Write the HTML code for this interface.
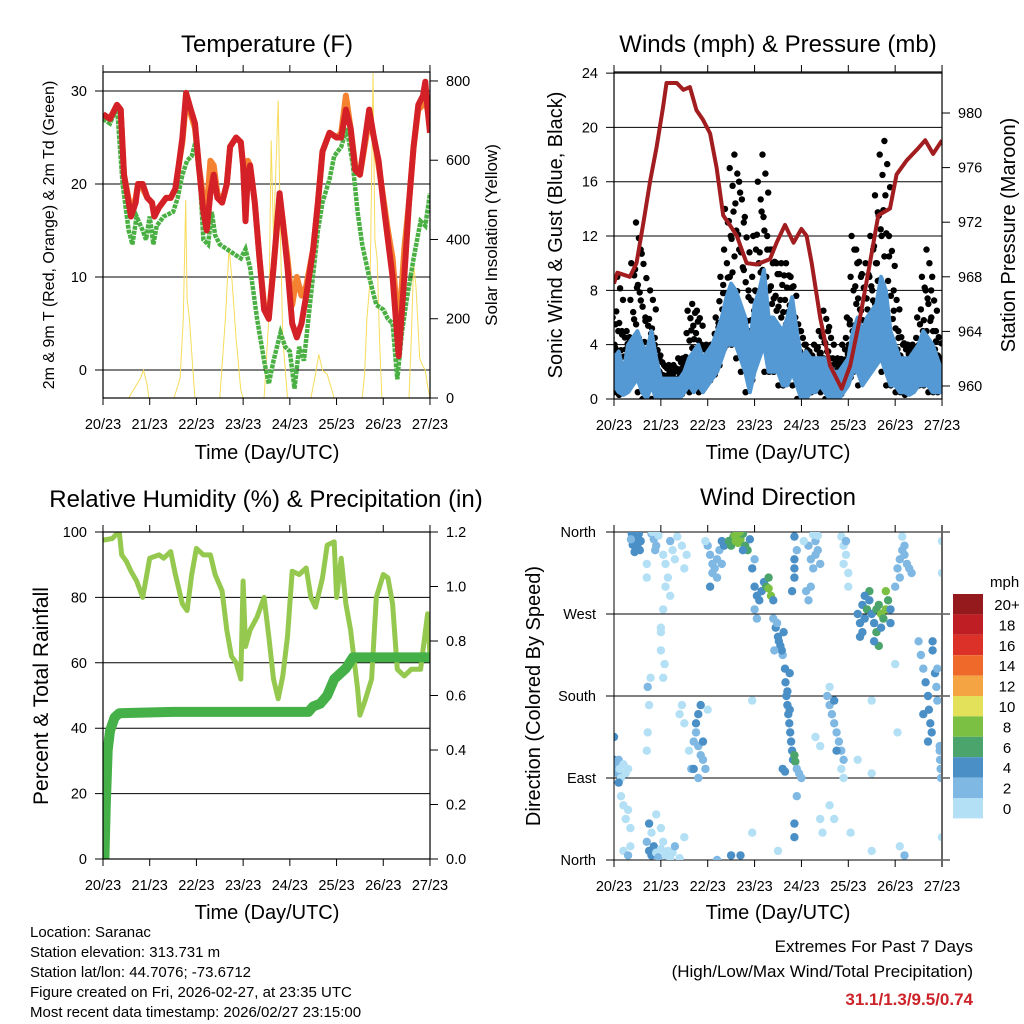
<!DOCTYPE html>
<html><head><meta charset="utf-8"><style>
html,body{margin:0;padding:0;background:#fff}
svg{display:block;font-family:"Liberation Sans",sans-serif}
</style></head><body>
<svg id="chart" width="1024" height="1024" viewBox="0 0 1024 1024" xmlns="http://www.w3.org/2000/svg">
<defs>
<clipPath id="c1"><rect x="103" y="72" width="327" height="326"/></clipPath>
<clipPath id="c2"><rect x="614" y="72" width="328" height="327"/></clipPath>
<clipPath id="c3"><rect x="103" y="532" width="327" height="327"/></clipPath>
<clipPath id="c4"><rect x="614" y="532" width="328" height="328"/></clipPath>
</defs>
<g id="g" font-size="14" fill="#000"></g>
<text x="267" y="52" font-size="24" text-anchor="middle">Temperature (F)</text>
<text x="778" y="52" font-size="24" text-anchor="middle">Winds (mph) &amp; Pressure (mb)</text>
<text x="266" y="507" font-size="24" text-anchor="middle">Relative Humidity (%) &amp; Precipitation (in)</text>
<text x="778" y="505" font-size="24" text-anchor="middle">Wind Direction</text>
<text transform="translate(54,235) rotate(-90)" font-size="16" text-anchor="middle">2m &amp; 9m T (Red, Orange) &amp; 2m Td (Green)</text>
<text transform="translate(497,235) rotate(-90)" font-size="17" text-anchor="middle">Solar Insolation (Yellow)</text>
<text transform="translate(562,235) rotate(-90)" font-size="20" text-anchor="middle">Sonic Wind &amp; Gust (Blue, Black)</text>
<text transform="translate(1015,235) rotate(-90)" font-size="20" text-anchor="middle">Station Pressure (Maroon)</text>
<text transform="translate(48,696) rotate(-90)" font-size="21" text-anchor="middle">Percent &amp; Total Rainfall</text>
<text transform="translate(540,696) rotate(-90)" font-size="20" text-anchor="middle">Direction (Colored By Speed)</text>
<text x="267" y="459" font-size="20" text-anchor="middle">Time (Day/UTC)</text>
<text x="778" y="459" font-size="20" text-anchor="middle">Time (Day/UTC)</text>
<text x="267" y="919" font-size="20" text-anchor="middle">Time (Day/UTC)</text>
<text x="778" y="919" font-size="20" text-anchor="middle">Time (Day/UTC)</text>
<g font-size="15">
<text x="30" y="937">Location: Saranac</text>
<text x="30" y="957">Station elevation: 313.731 m</text>
<text x="30" y="977">Station lat/lon: 44.7076; -73.6712</text>
<text x="30" y="997">Figure created on Fri, 2026-02-27, at 23:35 UTC</text>
<text x="30" y="1017">Most recent data timestamp: 2026/02/27 23:15:00</text>
</g>
<text x="973" y="952" font-size="17" text-anchor="end">Extremes For Past 7 Days</text>
<text x="973" y="977" font-size="17" text-anchor="end">(High/Low/Max Wind/Total Precipitation)</text>
<text x="973" y="1005" font-size="17" font-weight="bold" fill="#cc2229" text-anchor="end">31.1/1.3/9.5/0.74</text>
</svg>
<script>
const dayLabels=["20/23","21/23","22/23","23/23","24/23","25/23","26/23","27/23"];
// temperature
const tRedT=[0,.15,.3,.38,.45,.6,.7,.75,.85,.95,1.05,1.1,1.2,1.35,1.45,1.55,1.62,1.7,1.78,1.88,1.97,2.05,2.15,2.22,2.3,2.37,2.45,2.55,2.65,2.72,2.85,2.95,3.0,3.05,3.1,3.15,3.25,3.35,3.45,3.55,3.65,3.78,3.85,3.95,4.05,4.15,4.25,4.35,4.5,4.6,4.7,4.85,5.0,5.1,5.2,5.3,5.4,5.5,5.6,5.7,5.8,5.9,6.0,6.1,6.2,6.33,6.45,6.55,6.65,6.75,6.85,6.9,6.95,7.0];
const tRed=[27.5,27,28.5,28,21,16.5,18,20,20,18.5,18,16.5,17.5,18.5,18.5,19.5,22,25,29.8,28,26.5,22,17,15,19,21,18.5,18,20,24,25,24.5,22,16,21,22,18,12,6.5,5.5,11,19,16,11,5,3.5,5,8,13,18,23.5,25.5,25,25,28,26,21.5,21,24.5,28,25,22.5,18,14,10,1.5,10,18,24,28.5,29.5,31,28,25.5];
const tOrange=[27.5,27,28.5,28,21,17,18.5,20,19.5,18.5,18,16.5,17.5,18.5,18.5,19.5,22,24.5,29,27.5,26,22,18.5,17,22.5,22,19,18,20,24,25,24.5,22,17,22.5,22,18,12,7,6,11,18.5,16,12,7,10,8,9,13,18,23.5,25.5,25,25.5,29.5,26,22,21,24,27,25,22,18.5,15,12,4,13,18,24,28,28.5,29,28,27];
const tDewT=[0,.15,.3,.42,.55,.63,.72,.85,.92,1.0,1.08,1.15,1.3,1.5,1.6,1.7,1.8,1.9,1.98,2.08,2.15,2.25,2.33,2.4,2.5,2.65,2.8,2.95,3.05,3.15,3.3,3.45,3.55,3.65,3.8,3.9,4.0,4.1,4.2,4.3,4.45,4.6,4.7,4.85,4.95,5.1,5.22,5.35,5.45,5.55,5.7,5.85,6.0,6.1,6.2,6.3,6.4,6.5,6.65,6.8,6.9,7.0];
const tDew=[27,26.5,28.3,20,15,13.5,16.5,15,14,16.5,13.5,15.5,16.5,17,18.5,21,22.5,23,24.5,20,14,13.5,17,14.5,13.5,13,12.5,12,13,11,5.5,1,-1.5,1,4,2.5,2,-2,2.5,1,8,15,18,20.5,23,24,26,22,17,13.5,10,7,6.5,5.5,5,-1,4,7.5,12,16,15.5,19];
const solT=[0.55,0.7,0.8,0.87,0.95,0.98,1.52,1.65,1.72,1.77,1.8,1.85,1.93,1.97,2.5,2.62,2.7,2.76,2.85,2.95,3.0,3.45,3.55,3.6,3.65,3.75,3.8,3.85,3.95,4.45,4.55,4.62,4.7,4.8,4.9,4.95,5.55,5.6,5.65,5.72,5.78,5.82,5.87,5.92,5.97,6.55,6.6,6.65,6.7,6.78,6.85,6.9,6.95,7.0];
const solV=[0,30,50,70,30,0,0,50,200,500,250,200,60,0,0,200,380,300,150,20,0,0,200,650,400,750,400,150,0,0,60,110,70,60,20,0,0,60,200,300,820,400,350,150,0,0,150,340,280,100,80,70,30,0];
// winds
const wT=[0,.1,.2,.3,.4,.5,.6,.7,.8,.9,1,1.1,1.2,1.3,1.4,1.5,1.6,1.7,1.8,1.9,2,2.1,2.2,2.3,2.4,2.5,2.6,2.7,2.8,2.9,3,3.1,3.2,3.3,3.4,3.5,3.6,3.7,3.8,3.9,4,4.1,4.2,4.3,4.4,4.5,4.6,4.7,4.8,4.9,5,5.1,5.2,5.3,5.4,5.5,5.6,5.7,5.8,5.9,6,6.1,6.2,6.3,6.4,6.5,6.6,6.7,6.8,6.9,7];
const windLow=[1,.5,.3,.5,1,1.5,.5,0,1,0,0,0,0,0,0,.5,1,.5,1,.5,1,1.5,2,3,4,4,4,3,2,.5,2,3,4,2,2,2,1,1,2,1,0,0,.5,.5,1,.5,0,0,0,.5,1,2,2,1,1.5,2,2.5,3,2,1,1,.5,.5,.3,.5,1,1,1,.5,.5,.5];
const windHigh=[3,3.5,2,4,4.5,5,4,3.5,5,3,1.5,1.5,1.5,1.5,1.5,2,3,3.5,4,3,3.5,4,5,6,7.5,8.5,8,7,6,4,7,8,9.5,6,6,5.5,5,6,7.5,5,3,3.5,3,3,3,3,2.5,2,2,2.5,3,5,6,5,6,6.5,7,9,8,5,4,3,3,3,3.5,4,5,4.5,4,3,2];
const gust=[6,9,5,5,10,13,11,6,8,4,3,2.5,2.5,2.5,3,3,6.5,7,6.5,4,4,4,6,9,14,17,18,16,13,8,12,16,18,12,11,10,10,10,9,6,5,4,3.5,4,5,6.5,5,3,3,4,6,12,11,9,10,12,15,18,19,12,8,5,4,4,4,6,9,11,8,5,3];
const presT=[0,.07,.34,.48,.63,.77,.91,1.05,1.12,1.34,1.48,1.62,1.76,1.9,2.05,2.19,2.33,2.47,2.62,2.83,3.04,3.33,3.47,3.65,3.83,4.0,4.11,4.22,4.4,4.61,4.86,5.04,5.25,5.46,5.64,5.89,6.03,6.24,6.46,6.64,6.81,7.0];
const presV=[967.5,968.3,968,969,972,975,977.5,980.5,982.2,982.2,981.7,981.9,980.2,979.5,978.5,976,972.5,971.8,971,969,968.9,969.3,970.5,971.8,970.5,971.5,971,969,965,961.5,959.8,961.5,965,969,972.5,973,975.5,976.5,977.3,978,977,978];
// humidity
const rhT=[0,.2,.3,.35,.4,.5,.6,.72,.85,.95,1.0,1.2,1.3,1.45,1.55,1.7,1.8,1.9,2.0,2.15,2.3,2.4,2.55,2.65,2.75,2.85,2.95,3.0,3.05,3.15,3.3,3.45,3.55,3.65,3.75,3.85,3.95,4.05,4.2,4.35,4.45,4.55,4.7,4.8,4.95,5.0,5.1,5.2,5.3,5.45,5.5,5.6,5.75,5.85,6.0,6.1,6.2,6.3,6.45,6.6,6.8,6.95,7.0];
const rhV=[97.5,98,99.5,100,93,91,88,85,80,88,92,93,92,94,87,78,76,87,95,93,93,87,82,70,62,60,55,85,65,70,74,80,68,55,49,56,68,88,87,89,80,77,86,96,97,80,92,78,70,52,44,48,55,80,87,86,78,58,56,58,58,75,62];
const prT=[0,.03,.06,.1,.15,.25,.35,1.5,4.4,4.5,4.65,4.8,4.95,5.2,5.35,7.0];
const prV=[0,0,.2,.4,.47,.52,.535,.54,.54,.56,.57,.6,.66,.7,.74,.74];
// wind direction: "day dir speed"
const dirPts="0.38 358 4,0.42 352 4,0.45 356 4,0.48 348 4,0.5 344 4,0.52 352 4,0.55 340 4,0.4 346 4,0.46 360 4,0.53 358 4,0.57 350 4,0.44 338 4,0.5 354 4,0.36 352 2,0.8 358 2,0.85 352 2,0.9 345 2,0.82 360 0,0.95 356 0,0.88 340 2,1.05 335 0,1.1 325 0,1.15 310 0,1.2 350 2,1.25 340 0,1.3 330 0,1.35 355 0,1.45 345 0,1.5 320 0,1.55 335 0,1.1 300 0,1.2 290 0,1.05 275 0,0.7 325 0,0.7 310 0,1.0 255 0,1.0 250 0,2.0 345 2,2.05 335 2,2.1 325 2,2.15 320 2,2.2 330 2,2.25 340 2,2.3 350 4,2.35 345 4,2.1 315 2,2.2 310 2,2.05 300 4,2.3 325 2,1.95 350 0,2.45 350 6,2.5 345 6,2.55 355 6,2.6 350 8,2.65 348 8,2.7 352 8,2.75 358 6,2.8 345 6,2.85 340 6,2.58 356 8,2.68 360 8,2.9 352 4,2.75 340 4,3.0 300 4,3.05 290 4,3.1 285 4,3.15 295 4,3.2 305 4,3.25 300 6,3.3 298 8,3.3 310 6,3.35 290 8,3.4 285 4,3.0 275 2,3.05 265 2,2.95 320 4,3.0 330 2,3.4 265 2,3.45 255 4,3.5 245 4,3.55 235 4,3.6 225 2,3.48 260 2,3.52 240 4,3.58 230 4,3.62 250 4,3.42 230 2,3.65 210 4,3.66 195 4,3.68 180 4,3.7 170 4,3.72 160 4,3.74 150 4,3.76 140 4,3.78 130 4,3.8 120 4,3.82 110 4,3.85 115 6,3.87 108 6,3.7 185 4,3.75 165 4,3.9 100 2,3.95 95 2,3.6 100 4,3.65 97 4,3.75 205 4,3.85 320 4,3.85 310 4,3.85 330 4,3.8 295 4,3.9 340 2,3.85 355 4,3.85 25 4,3.85 40 4,3.9 70 2,4.0 90 2,4.15 345 2,4.2 330 2,4.25 320 2,4.3 335 2,4.35 340 2,4.2 300 2,4.15 285 2,4.1 295 2,4.3 350 2,4.4 325 2,4.05 350 0,4.25 357 0,4.35 356 0,4.55 180 2,4.6 170 2,4.65 160 2,4.7 150 2,4.75 140 2,4.8 130 2,4.85 120 2,4.9 110 2,4.7 175 4,4.75 120 4,4.6 190 0,4.4 125 0,4.3 135 0,4.85 100 0,4.9 90 0,4.85 355 0,4.9 345 0,4.95 335 0,4.9 325 0,5.0 315 0,4.95 350 2,5.0 300 0,5.2 270 4,5.25 260 4,5.3 280 4,5.35 265 4,5.4 275 6,5.45 285 4,5.5 270 4,5.55 260 4,5.6 275 6,5.65 280 6,5.7 270 8,5.75 265 6,5.8 275 8,5.85 285 6,5.9 275 4,5.3 250 4,5.6 250 6,5.65 235 6,5.55 240 4,5.8 295 8,5.45 295 6,5.25 245 4,5.7 255 4,5.9 260 4,5.35 290 4,6.05 320 2,6.1 330 2,6.15 340 2,6.2 335 2,6.25 325 2,6.3 320 2,6.35 315 2,6.1 310 2,6.0 300 2,6.2 345 2,6.15 355 0,6.5 240 2,6.55 225 2,6.6 210 2,6.65 195 4,6.7 180 4,6.72 165 4,6.75 150 4,6.78 140 4,6.8 240 4,6.8 230 4,6.85 205 4,6.88 190 2,6.9 175 2,6.6 160 4,6.7 130 4,6.9 210 2,6.95 125 2,6.96 110 2,6.97 100 2,6.98 90 2,6.95 120 2,0.0 110 4,0.02 100 2,0.05 105 2,0.08 95 2,0.1 110 2,0.12 100 0,0.15 90 0,0.2 105 0,0.25 95 0,0.3 100 0,0.0 135 4,0.1 85 4,0.15 70 0,0.2 60 0,0.25 45 0,0.3 55 0,0.35 35 0,0.7 20 2,0.75 10 4,0.8 5 4,0.85 15 4,0.9 8 0,0.95 3 2,1.0 12 0,1.05 20 0,1.1 5 0,1.15 10 0,1.2 2 0,1.25 8 0,1.3 15 2,1.4 2 0,1.5 25 0,0.75 40 4,0.8 30 0,0.9 50 0,1.0 35 0,0.2 10 0,0.3 5 2,0.35 15 0,1.6 120 0,1.65 100 2,1.7 130 2,1.75 140 2,1.8 125 2,1.85 115 2,1.9 110 2,1.95 100 2,1.75 150 4,1.7 100 4,1.8 90 2,1.9 130 4,1.8 160 4,1.85 170 4,1.4 160 0,1.45 170 0,1.5 150 0,0.7 120 0,0.72 140 0,0.75 170 0,0.72 190 2,0.78 200 0,1.05 200 0,1.08 215 0,1.0 230 0,2.0 165 0,2.95 175 0,2.95 30 0,3.5 10 0,4.4 45 0,4.45 30 0,4.6 60 0,4.7 45 0,5.05 30 0,5.2 110 0,5.5 95 0,5.5 175 0,6.0 215 0,6.05 140 0,6.1 15 0,6.2 5 2,7.0 25 0,7.0 350 0,7.0 315 0,2.2 0 2,2.5 5 4,2.7 5 4,5.5 10 0";
const legendLabels=["20+","18","16","14","12","10","8","6","4","2","0"];
const legendColors=["#951a1d","#be1e24","#dc3129","#ef6a2a","#f5a444","#e3e15a","#7bc043","#4ba46b","#4a8fc6","#7fb8e3","#b3e0f5"];

const NS="http://www.w3.org/2000/svg";
const root=document.getElementById('g');
function mk(tag,attrs,name,parent){
  const el=document.createElementNS(NS,tag);
  for(const k in attrs) el.setAttribute(k,attrs[k]);
  
  
  (parent||root).appendChild(el);return el;
}
function txt(x,y,s,anchor,name,size){const t=mk('text',{x:x,y:y,'text-anchor':anchor,'font-size':size||14},name);t.textContent=s;return t;}
function path(xs,ys,fx,fy){return xs.map((t,i)=>(i?'L':'M')+fx(t).toFixed(1)+','+fy(ys[i]).toFixed(1)).join('');}

const X1=t=>103+t*46.71, X2=t=>614+t*46.86;
function frame(x0,y0,x1,y1,name,xs){
  mk('rect',{x:x0,y:y0,width:x1-x0,height:y1-y0,fill:'none',stroke:'#000','stroke-width':1.2},name+'-frame');
  for(let i=0;i<8;i++){const x=xs(i);
    mk('line',{x1:x,x2:x,y1:y1,y2:y1+7,stroke:'#000'},name+'-x-tick');
    mk('line',{x1:x,x2:x,y1:y0,y2:y0-7,stroke:'#000'},name+'-x-tick-top');
    txt(x,y1+31,dayLabels[i],'middle',name+'-x-label',14.5);}
}
function yaxis(vals,fy,x0,x1,side,name,fmt,grid){
  vals.forEach(v=>{const y=fy(v);
    if(grid) mk('line',{x1:x0-8,x2:x1,y1:y,y2:y,stroke:'#000','stroke-width':1},name+'-grid');
    if(side==='r'){mk('line',{x1:x1,x2:x1+8,y1:y,y2:y,stroke:'#000'},name+'-tick');txt(x1+16,y+5,fmt(v),'start',name+'-label',14.5);}
    else {if(!grid) mk('line',{x1:x0-8,x2:x0,y1:y,y2:y,stroke:'#000'},name+'-tick');txt(x0-16,y+5,fmt(v),'end',name+'-label',14.5);}
  });
}
const s=v=>String(v);
// ---- Panel 1
const yT=v=>370-v*9.3, yS=w=>398-w*0.3963;
yaxis([0,10,20,30],yT,103,430,'l','temp-y',s,true);
yaxis([0,200,400,600,800],yS,103,430,'r','solar-y',s,false);
const g1=mk('g',{'clip-path':'url(#c1)'},'temperature-plot');
mk('path',{d:path(solT,solV,X1,yS),fill:'none',stroke:'#f7dc5c','stroke-width':1},'solar-line',g1);
mk('path',{d:path(tRedT,tOrange,X1,yT),fill:'none',stroke:'#f58231','stroke-width':6,'stroke-linejoin':'round'},'temp-9m-line',g1);
mk('path',{d:path(tDewT,tDew,X1,yT),fill:'none',stroke:'#4bb044','stroke-width':4.5,'stroke-dasharray':'4 1'},'dewpoint-line',g1);
mk('path',{d:path(tRedT,tRed,X1,yT),fill:'none',stroke:'#d42127','stroke-width':6,'stroke-linejoin':'round'},'temp-2m-line',g1);
frame(103,72,430,398,'temp',X1);
// ---- Panel 2
const yW=v=>399-v*13.58, yP=p=>386-(p-960)*13.65;
yaxis([0,4,8,12,16,20,24],yW,614,942,'l','wind-y',s,true);
yaxis([960,964,968,972,976,980],yP,614,942,'r','pressure-y',s,false);
const g2=mk('g',{'clip-path':'url(#c2)'},'wind-plot');
wT.forEach((t,i)=>{[0,0.12,0.25,0.38,0.5,0.6,0.7,0.8,0.9,1].forEach((f,j)=>{
  const c=mk('circle',{cx:(X2(t)+(((j*7)%10)-4.5)*0.95).toFixed(1),cy:yW(windLow[i]+(gust[i]-windLow[i])*f).toFixed(1),r:3.2,fill:'#000'},'gust-point',g2);
});});
const band=wT.map((t,i)=>(i?'L':'M')+X2(t).toFixed(1)+','+yW(windHigh[i]).toFixed(1)).join('')+wT.slice().reverse().map((t,k)=>{const i=wT.length-1-k;return 'L'+X2(t).toFixed(1)+','+yW(windLow[i]).toFixed(1);}).join('')+'Z';
mk('path',{d:band,fill:'#5499d3',stroke:'#5499d3','stroke-width':4,'stroke-linejoin':'round'},'sonic-wind-band',g2);
mk('path',{d:path(presT,presV,X2,yP),fill:'none',stroke:'#a11d1f','stroke-width':4,'stroke-linejoin':'round'},'pressure-line',g2);
frame(614,72,942,399,'wind',X2);
// ---- Panel 3
const yR=v=>859-v*3.27, yPr=v=>859-v*272.5;
yaxis([0,20,40,60,80,100],yR,103,430,'l','rh-y',s,true);
yaxis([0,.2,.4,.6,.8,1.0,1.2],yPr,103,430,'r','precip-y',v=>v.toFixed(1),false);
const g3=mk('g',{'clip-path':'url(#c3)'},'humidity-plot');
mk('path',{d:path(rhT,rhV,X1,yR),fill:'none',stroke:'#95c84f','stroke-width':5,'stroke-linejoin':'round'},'rh-line',g3);
mk('path',{d:path(prT,prV,X1,yPr),fill:'none',stroke:'#44b047','stroke-width':10,'stroke-linejoin':'round','stroke-linecap':'round'},'precip-line',g3);
frame(103,532,430,859,'rh',X1);
// ---- Panel 4
const yD=d=>860-d*328/360;
const dirNames=["North","East","South","West","North"];
[0,90,180,270,360].forEach((d,i)=>{const y=yD(d);
  mk('line',{x1:606,x2:950,y1:y,y2:y,stroke:'#000'},'direction-grid');
  txt(596,y+5,dirNames[i],'end','direction-label',14.5);});
const g4=mk('g',{'clip-path':'url(#c4)'},'direction-plot');
dirPts.split(',').forEach(p=>{const a=p.trim().split(' ').map(Number);
  const bin=Math.min(10,Math.floor(a[2]/2));
  mk('circle',{cx:X2(a[0]).toFixed(1),cy:yD(a[1]).toFixed(1),r:4.2,fill:legendColors[10-bin]},'direction-point',g4);});
for(let i=0;i<8;i++){const x=X2(i);
  mk('line',{x1:x,x2:x,y1:860,y2:867,stroke:'#000'},'direction-x-tick');
  mk('line',{x1:x,x2:x,y1:532,y2:525,stroke:'#000'},'direction-x-tick-top');
  txt(x,891,dayLabels[i],'middle','direction-x-label',14.5);}
mk('line',{x1:614,x2:614,y1:525,y2:867,stroke:'#000'},'direction-left-axis');
mk('line',{x1:942,x2:942,y1:525,y2:867,stroke:'#666','stroke-width':2},'direction-right-axis');
// legend
txt(990,587,'mph','start','legend-title',15);
legendLabels.forEach((l,i)=>{
  mk('rect',{x:953,y:594+i*20.4,width:30,height:20.4,fill:legendColors[i]},'legend-swatch');
  txt(1007,594+i*20.4+16,l,'middle','legend-label',15);
});
</script>
</body></html>
